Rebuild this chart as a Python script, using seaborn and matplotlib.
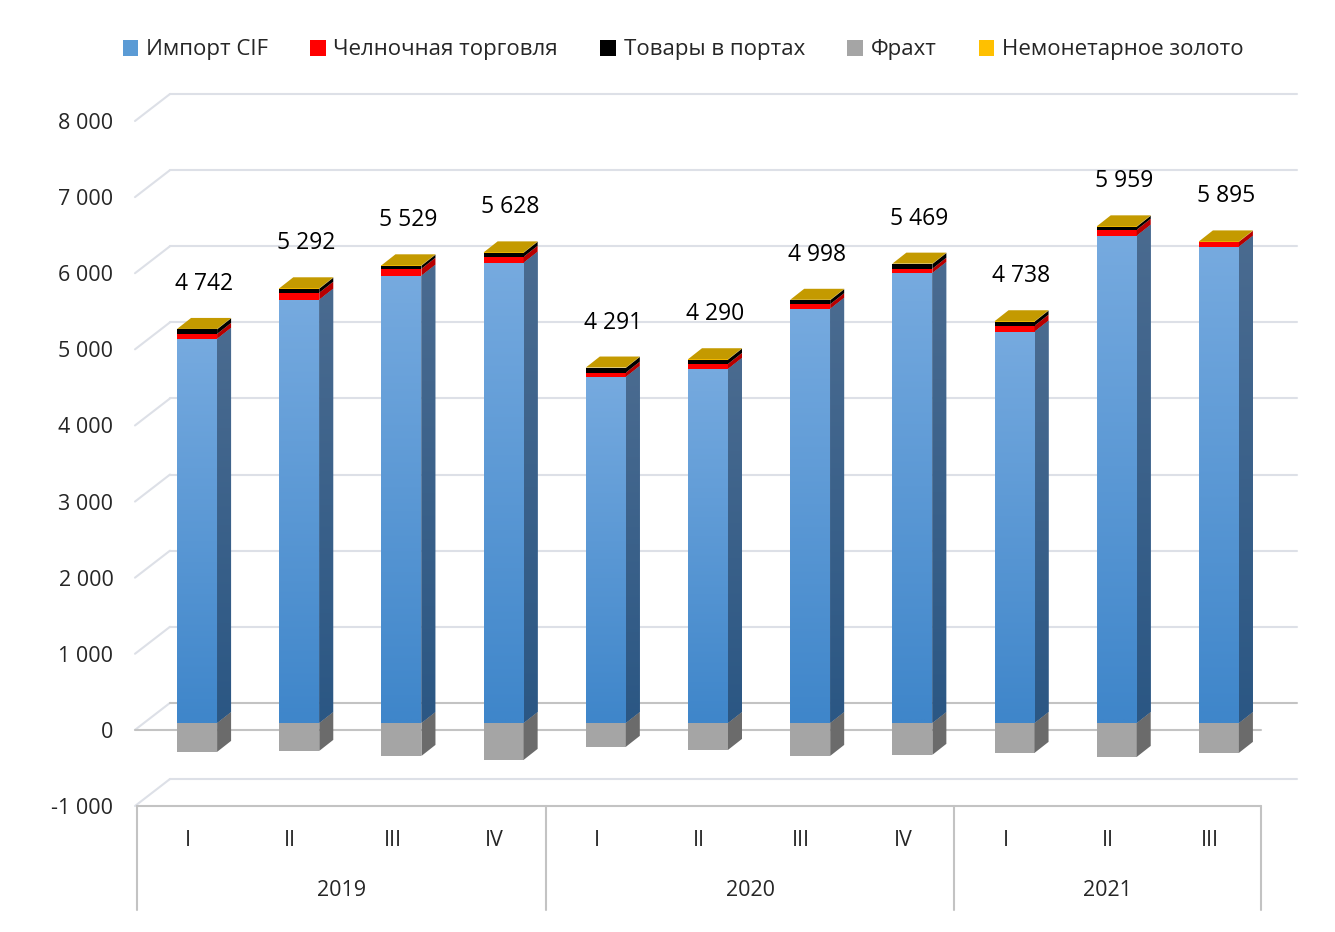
import matplotlib
matplotlib.use("Agg")
import matplotlib.pyplot as plt
import matplotlib.transforms as mtransforms
from matplotlib.colors import to_rgb
from matplotlib.patches import Patch, Polygon
import numpy as np
import pandas as pd
import seaborn as sns


QUARTERS = ["I", "II", "III", "IV", "I", "II", "III", "IV", "I", "II", "III"]
YEARS = ["2019", "2020", "2021"]
YEAR_SIZES = [4, 4, 3]

IMPORT_CIF = [5045, 5560, 5875, 6045, 4545, 4650, 5440, 5910, 5140, 6400, 6255]
SHUTTLE = [66, 92, 92, 79, 57, 66, 61, 57, 79, 79, 66]
PORT_GOODS = [60, 53, 40, 53, 62, 57, 53, 62, 53, 40, 0]
FREIGHT = [-381, -368, -434, -486, -315, -355, -434, -420, -394, -447, -394]
GOLD = [5, 5, 5, 5, 5, 5, 5, 5, 5, 5, 5]
TOTALS = [4742, 5292, 5529, 5628, 4291, 4290, 4998, 5469, 4738, 5959, 5895]

SERIES = ["Импорт CIF", "Челночная торговля", "Товары в портах", "Фрахт", "Немонетарное золото"]
LEGEND_COLORS = ["#5b9bd5", "#ff0000", "#000000", "#a5a5a5", "#ffc000"]

W, H, DPI = 1335, 932, 100
# plot frame in pixels (front plane)
LEFT, RIGHT, TOP, BOTTOM = 137, 1261, 121, 806
YMIN, YMAX = -1000, 8000


def fmt(v):
    return f"{v:,}".replace(",", " ")


def main():
    sns.set_theme(style="white")
    plt.rcParams["font.family"] = ["Open Sans", "DejaVu Sans"]

    n = len(QUARTERS)
    fig = plt.figure(figsize=(W / DPI, H / DPI), dpi=DPI)
    fig.patch.set_facecolor("white")
    ax = fig.add_axes([LEFT / W, 1 - BOTTOM / H, (RIGHT - LEFT) / W, (BOTTOM - TOP) / H])

    px_x = (RIGHT - LEFT) / n
    px_y = (BOTTOM - TOP) / (YMAX - YMIN)

    def dx(p):
        return p / px_x

    def dy(p):
        return p / px_y

    # bars sit a little behind the front plane
    shift = mtransforms.ScaledTranslation(9 / DPI, 7 / DPI, fig.dpi_scale_trans)
    bar_trans = ax.transData + shift
    bar_w = dx(40)
    ddx, ddy = dx(14), dy(11)

    # back wall gridlines
    light, gray = "#dde0e7", "#c3c3c3"
    for t in range(YMIN, YMAX + 1, 1000):
        ax.plot([-0.5 - dx(2), -0.5 + dx(33)], [t, t + dy(27)], color=light, lw=1.5,
                clip_on=False, zorder=0)
        ax.plot([-0.5 + dx(33), n - 0.5 + dx(36)], [t + dy(27), t + dy(27)],
                color=gray if t == 0 else light, lw=1.5, clip_on=False, zorder=0)
    ax.plot([-0.5 - dx(2), n - 0.5], [0, 0], color=gray, lw=1.5, clip_on=False, zorder=0)

    # front faces of the main series via seaborn
    df = pd.DataFrame({"pos": np.arange(n), "value": IMPORT_CIF})
    sns.barplot(data=df, x="pos", y="value", native_scale=True, width=bar_w,
                color="#5b9bd5", errorbar=None, ax=ax, zorder=3)
    blue_patches = list(ax.patches)
    for p in blue_patches:
        p.set_transform(bar_trans)
        p.set_edgecolor("none")

    def gradient(patch, extent, top, bottom, z):
        c0, c1 = np.array(to_rgb(top)), np.array(to_rgb(bottom))
        t = np.linspace(0, 1, 64)[:, None, None]
        img = c0 * (1 - t) + c1 * t
        im = ax.imshow(img, extent=extent, aspect="auto", origin="upper",
                       interpolation="bilinear", zorder=z)
        im.set_transform(bar_trans)
        im.set_clip_path(patch)

    def poly(pts, color, z):
        pg = Polygon(pts, closed=True, facecolor=color, edgecolor="none",
                     transform=bar_trans, zorder=z)
        ax.add_patch(pg)
        return pg

    x = np.arange(n)
    for i in range(n):
        x0, x1 = x[i] - bar_w / 2, x[i] + bar_w / 2
        imp = IMPORT_CIF[i]
        # blue front gradient
        gradient(blue_patches[i], [x0, x1, 0, imp], "#76aadf", "#3f86ca", 3.5)
        # blue side
        side = poly([(x1, 0), (x1 + ddx, ddy), (x1 + ddx, imp + ddy), (x1, imp)], "#3a6390", 3)
        gradient(side, [x1, x1 + ddx, 0, imp + ddy], "#4a6b90", "#2b5784", 3.5)
        # freight below zero
        fr = FREIGHT[i]
        ax.bar(x[i], fr, width=bar_w, bottom=0, color="#a5a5a5", transform=bar_trans,
               zorder=3, linewidth=0)
        poly([(x1, fr), (x1 + ddx, fr + ddy), (x1 + ddx, ddy), (x1, 0)], "#6b6b6b", 3)
        # stacked thin series on top
        base = imp
        for vals, front, sidec in [(SHUTTLE, "#ff0000", "#b80000"),
                                   (PORT_GOODS, "#000000", "#000000"),
                                   (GOLD, "#ffc000", "#b08400")]:
            v = vals[i]
            if v > 0:
                ax.bar(x[i], v, width=bar_w, bottom=base, color=front, transform=bar_trans,
                       zorder=3, linewidth=0)
                poly([(x1, base), (x1 + ddx, base + ddy), (x1 + ddx, base + v + ddy),
                      (x1, base + v)], sidec, 3)
            base += v
        # top face
        poly([(x0, base), (x1, base), (x1 + ddx, base + ddy), (x0 + ddx, base + ddy)],
             "#c49a00", 3.6)
        ax.text(x[i] + dx(7), base + dy(45), fmt(TOTALS[i]), transform=bar_trans,
                ha="center", va="center", fontsize=16.5, color="#000000", zorder=5)

    ax.set_xlim(-0.5, n - 0.5)
    ax.set_ylim(YMIN, YMAX)
    ax.set_xlabel("")
    ax.set_ylabel("")
    ax.set_xticks([])
    ticks = list(range(YMIN, YMAX + 1, 1000))
    ax.set_yticks(ticks)
    ax.set_yticklabels([fmt(t) for t in ticks], fontsize=15.5)
    ax.tick_params(axis="y", length=0, pad=17)
    for s in ax.spines.values():
        s.set_visible(False)
    ax.set_facecolor("none")

    # category table under the plot
    xt = ax.get_xaxis_transform()
    ah = BOTTOM - TOP
    ax.plot([-0.5, n - 0.5], [0, 0], transform=xt, color=gray, lw=1.5, clip_on=False)
    edges = np.concatenate([[0], np.cumsum(YEAR_SIZES)]) - 0.5
    for e in edges:
        ax.plot([e, e], [0, -104 / ah], transform=xt, color=gray, lw=1.5, clip_on=False)
    for i, q in enumerate(QUARTERS):
        ax.text(i, -34 / ah, q, transform=xt, ha="center", va="center", fontsize=15.5)
    for k, yr in enumerate(YEARS):
        ax.text((edges[k] + edges[k + 1]) / 2, -85 / ah, yr, transform=xt,
                ha="center", va="center", fontsize=15.5)

    handles = [Patch(facecolor=c, edgecolor="none", label=s) for s, c in zip(SERIES, LEGEND_COLORS)]
    fig.legend(handles=handles, ncol=5, loc="center", bbox_to_anchor=(683 / W, 1 - 50 / H),
               frameon=False, fontsize=16, handlelength=0.7, handleheight=0.7,
               handletextpad=0.35, columnspacing=1.9)

    fig.savefig("out.png", dpi=DPI, facecolor="white")
    plt.close(fig)


if __name__ == "__main__":
    main()
